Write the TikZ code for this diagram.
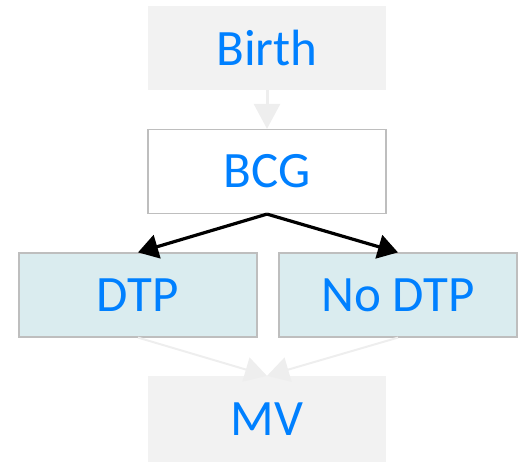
\documentclass[tikz,border=0pt]{standalone}
\usepackage{fontspec}
\setmainfont{Carlito}
\usetikzlibrary{arrows.meta}
\definecolor{txtblue}{RGB}{0,128,255}
\definecolor{boxgray}{RGB}{242,242,242}
\definecolor{edgegray}{RGB}{190,190,190}
\definecolor{boxblue}{RGB}{218,236,239}
\definecolor{arrgray}{RGB}{238,238,238}
\tikzset{
  box/.style={minimum width=238pt, minimum height=84pt, inner sep=0pt,
    text=txtblue, font=\fontsize{51}{60}\selectfont},
  plain/.style={box, fill=boxgray},
  framed/.style={box, draw=edgegray, line width=1.2pt},
  palearrow/.style={draw=arrgray, -{Triangle[length=25pt, width=26pt]}},
  darkarrow/.style={draw=black, line width=3.2pt, -{Triangle[length=20pt, width=24pt]}}
}
\begin{document}
\begin{tikzpicture}[x=1pt, y=-1pt]
	\useasboundingbox (0,0) rectangle (520,463);
	
	\node[plain] (birth) at (267,48) {Birth};
	\node[framed, fill=white] (bcg) at (267,171.5) {BCG};
	\node[framed, fill=boxblue] (dtp) at (138,295) {DTP};
	\node[framed, fill=boxblue] (nodtp) at (398,295) {No DTP};
	\node[plain, minimum height=86pt] (mv) at (267,419) {MV};
	
	% pale links
	\draw[palearrow, line width=3pt] (birth.south) -- (bcg.north);
	\draw[palearrow, line width=2pt, -{Triangle[length=22pt, width=25pt]}] (dtp.south) -- (mv.north);
	\draw[palearrow, line width=2pt, -{Triangle[length=22pt, width=25pt]}] (nodtp.south) -- (mv.north);
	
	% vaccine split
	\draw[darkarrow] (bcg.south) -- (dtp.north);
	\draw[darkarrow] (bcg.south) -- (nodtp.north);
\end{tikzpicture}
\end{document}
